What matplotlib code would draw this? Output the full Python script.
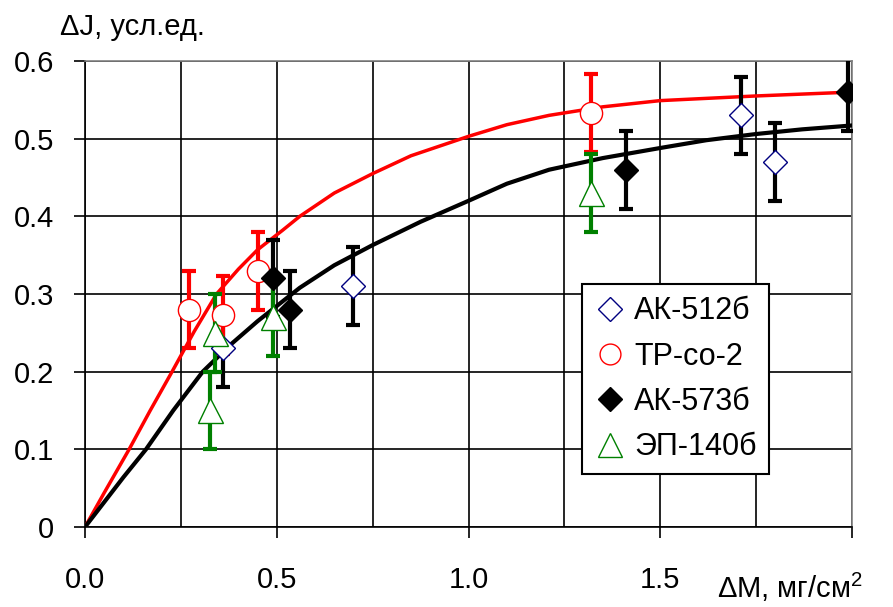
import numpy as np
import matplotlib
matplotlib.use("Agg")
from matplotlib import pyplot as plt
from matplotlib.lines import Line2D

plt.rcParams['font.family'] = ['Liberation Sans', 'DejaVu Sans']
plt.rcParams['mathtext.fontset'] = 'custom'
plt.rcParams['mathtext.rm'] = 'Liberation Sans'

# measured points (x = dM, y = dJ), error = half-length of bar
ak512_x = [0.70, 0.36, 1.71, 1.80]
ak512_y = [0.31, 0.23, 0.53, 0.47]
ak512_err = [0.05, 0.05, 0.05, 0.05]

tp_x = [0.27, 0.36, 0.45, 1.32]
tp_y = [0.28, 0.273, 0.33, 0.533]
tp_err = [0.05, 0.05, 0.05, 0.05]

ak573_x = [0.49, 0.535, 1.41, 1.99]
ak573_y = [0.32, 0.28, 0.46, 0.56]
ak573_err = [0.05, 0.05, 0.05, 0.05]

ep_x = [0.325, 0.34, 0.49, 1.32]
ep_y = [0.15, 0.25, 0.27, 0.43]
ep_err = [0.05, 0.05, 0.05, 0.05]

# fitted curves
red_x = [0.0, 0.05, 0.115, 0.17, 0.227, 0.285, 0.343, 0.40, 0.45, 0.515, 0.56, 0.65,
         0.75, 0.85, 1.0, 1.1, 1.21, 1.35, 1.5, 1.75, 2.0]
red_y = [0.0, 0.044, 0.10, 0.15, 0.20, 0.252, 0.30, 0.332, 0.357, 0.382, 0.40, 0.43,
         0.455, 0.478, 0.503, 0.518, 0.53, 0.541, 0.549, 0.555, 0.56]
black_x = [0.0, 0.05, 0.10, 0.159, 0.23, 0.307, 0.38, 0.45, 0.56, 0.65, 0.75, 0.875,
           1.0, 1.1, 1.21, 1.35, 1.5, 1.62, 1.75, 1.87, 2.0]
black_y = [0.0, 0.032, 0.064, 0.10, 0.15, 0.20, 0.235, 0.265, 0.308, 0.337, 0.363, 0.393,
           0.42, 0.442, 0.46, 0.475, 0.488, 0.498, 0.506, 0.512, 0.517]

x_ticks = [0.0, 0.5, 1.0, 1.5, 2.0]
x_ticklabels = ['0.0', '0.5', '1.0', '1.5', '']
y_ticks = [0, 0.1, 0.2, 0.3, 0.4, 0.5, 0.6]
y_ticklabels = ['0', '0.1', '0.2', '0.3', '0.4', '0.5', '0.6']

fig = plt.figure(figsize=(8.93, 6.07), dpi=100)
ax = fig.add_axes([0.0952, 0.1318, 0.8589, 0.7677])

ax.set_xlim(0, 2.0)
ax.set_ylim(0, 0.6)

# grid
ax.set_xticks(x_ticks)
ax.set_xticks(np.arange(0.25, 2.0, 0.5), minor=True)
ax.set_yticks(y_ticks)
ax.set_xticklabels(x_ticklabels, fontsize=21)
ax.set_yticklabels(y_ticklabels, fontsize=21)
ax.grid(True, which='both', axis='x', color='black', lw=1.2)
ax.grid(True, which='major', axis='y', color='black', lw=1.2)
ax.tick_params(axis='x', which='major', direction='out', length=8, width=1.2, pad=20)
ax.tick_params(axis='x', which='minor', length=0)
ax.tick_params(axis='y', direction='out', length=8, width=1.2, pad=14)
for s in ['left', 'bottom']:
    ax.spines[s].set_color('black')
    ax.spines[s].set_linewidth(1.2)
for s in ['top', 'right']:
    ax.spines[s].set_color('#808080')
    ax.spines[s].set_linewidth(1.2)

ax.plot(red_x, red_y, color='red', lw=2.5, zorder=3)
ax.plot(black_x, black_y, color='black', lw=3, zorder=3)

ebkw = dict(fmt='none', elinewidth=3, capsize=5, capthick=3, zorder=4)
ax.errorbar(ak512_x, ak512_y, yerr=ak512_err, ecolor='black', **ebkw)
ax.errorbar(tp_x, tp_y, yerr=tp_err, ecolor='red', **ebkw)
ax.errorbar(ak573_x, ak573_y, yerr=ak573_err, ecolor='black', **ebkw)
ax.errorbar(ep_x, ep_y, yerr=ep_err, ecolor='green', **ebkw)

ax.plot(ak512_x, ak512_y, 'D', ms=12, mfc='white', mec='#000080', mew=1, zorder=5)
ax.plot(tp_x, tp_y, 'o', ms=16, mfc='white', mec='red', mew=1, zorder=5)
ax.plot(ak573_x, ak573_y, 'D', ms=12, mfc='black', mec='black', mew=1, zorder=5)
ax.plot(ep_x, ep_y, '^', ms=18, mfc='white', mec='green', mew=1, zorder=5)

handles = [
    Line2D([], [], ls='none', marker='D', ms=12, mfc='white', mec='#000080', mew=1),
    Line2D([], [], ls='none', marker='o', ms=15, mfc='white', mec='red', mew=1),
    Line2D([], [], ls='none', marker='D', ms=12, mfc='black', mec='black', mew=1),
    Line2D([], [], ls='none', marker='^', ms=17, mfc='white', mec='green', mew=1),
]
labels = ['АК-512б', 'ТР-со-2', 'АК-573б', 'ЭП-140б']
leg = ax.legend(handles, labels, loc='upper left', bbox_to_anchor=(0.648, 0.521),
                fontsize=22, frameon=True, fancybox=False, framealpha=1,
                edgecolor='black', handlelength=1.0, handletextpad=0.3,
                borderpad=0.4, labelspacing=0.5, borderaxespad=0)
leg.get_frame().set_linewidth(1.5)
leg.set_zorder(10)

fig.text(60 / 893, 1 - 35 / 607, 'ΔJ, усл.ед.', fontsize=21, va='baseline', ha='left')
fig.text(717 / 893, 1 - 598 / 607, 'ΔM, мг/см$^{2}$', fontsize=21, va='baseline', ha='left')

fig.savefig('out.png', dpi=100)
